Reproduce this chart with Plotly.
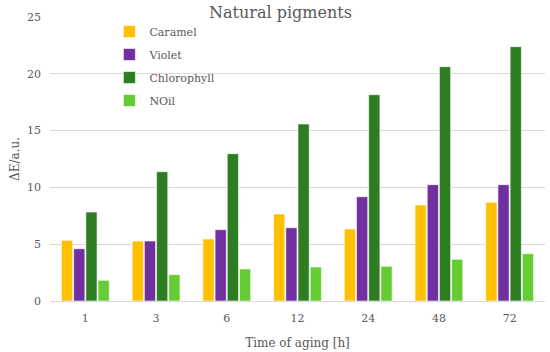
import plotly.graph_objects as go

categories = ["1", "3", "6", "12", "24", "48", "72"]
caramel = [5.34, 5.28, 5.46, 7.66, 6.34, 8.45, 8.69]
violet = [4.60, 5.28, 6.28, 6.45, 9.18, 10.24, 10.24]
chlorophyll = [7.83, 11.38, 12.97, 15.58, 18.16, 20.63, 22.39]
noil = [1.82, 2.32, 2.82, 2.99, 3.05, 3.67, 4.16]

series = [
    ("Caramel", caramel, "#FFC000"),
    ("Violet", violet, "#7030A0"),
    ("Chlorophyll", chlorophyll, "#2E7D22"),
    ("NOil", noil, "#66CC33"),
]

FONT = "Palatino Linotype, Book Antiqua, DejaVu Serif, serif"
GRAY = "#595959"

fig = go.Figure()
for name, vals, col in series:
    fig.add_trace(go.Bar(x=categories, y=vals, name=name, legendgroup=name,
                         marker=dict(color=col, line=dict(color="white", width=0.6))))

fig.update_layout(
    width=550, height=352,
    margin=dict(l=50, r=5, t=17, b=51, autoexpand=False),
    paper_bgcolor="white", plot_bgcolor="white",
    barmode="group", bargap=0.31, bargroupgap=0.08,
    font=dict(family=FONT, color=GRAY, size=11),
    title=dict(text="Natural pigments", x=0.51, xanchor="center", y=0.966, yanchor="middle",
               font=dict(family=FONT, size=16, color=GRAY)),
    legend=dict(x=0.12, y=1.0, xanchor="left", yanchor="top", bgcolor="rgba(0,0,0,0)",
                font=dict(family=FONT, size=11, color=GRAY), tracegroupgap=4,
                itemwidth=30, traceorder="grouped"),
    xaxis=dict(type="category", showgrid=False, showline=True, linecolor="#D9D9D9", linewidth=1,
               ticks="", tickfont=dict(size=11, color=GRAY), automargin=False, ticklabelstandoff=7,
               title=dict(text="Time of aging [h]", font=dict(size=12, color=GRAY), standoff=14)),
    yaxis=dict(range=[0, 25], dtick=5, showgrid=True, gridcolor="#D9D9D9", gridwidth=1,
               zeroline=False, showline=False, ticks="", ticklabelstandoff=8,
               tickfont=dict(size=11, color=GRAY), automargin=False,
               title=dict(text="ΔE/a.u.", font=dict(size=12, color=GRAY), standoff=4)),
)

fig.write_html("out.html", config={"displayModeBar": False},
               post_script="document.body.style.margin='0';")
